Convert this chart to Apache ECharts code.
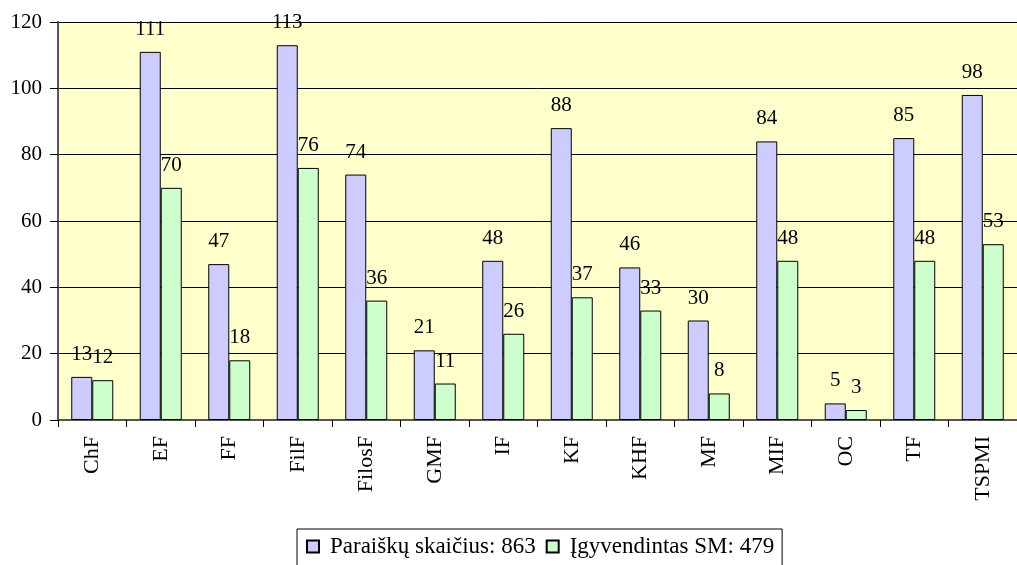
<!DOCTYPE html>
<html>
<head>
<meta charset="utf-8">
<script src="https://cdn.jsdelivr.net/npm/echarts@6/dist/echarts.min.js"></script>
<style>
html,body{margin:0;padding:0;background:#fff;}
#chart{width:1017px;height:565px;}
</style>
</head>
<body>
<div id="chart"></div>
<script>
var categories = ['ChF','EF','FF','FilF','FilosF','GMF','IF','KF','KHF','MF','MIF','OC','TF','TSPMI'];
var paraiskos = [13,111,47,113,74,21,48,88,46,30,84,5,85,98];
var igyvendinta = [12,70,18,76,36,11,26,37,33,8,48,3,48,53];
var seriesNames = ['Paraiškų skaičius: 863', 'Įgyvendintas SM: 479'];
var yTicks = {min: 0, max: 120, step: 20};

var font = '"Liberation Serif", serif';

function makeSeries(name, values, color){
	return {
		name: name,
		type: 'bar',
		data: values,
		barWidth: 21,
		barGap: '0%',
		itemStyle: { color: color, borderColor: '#000', borderWidth: 1 },
		label: {
			show: true,
			position: 'top',
			distance: 12,
			color: '#000',
			fontFamily: font,
			fontSize: 21
		}
	};
}

var myChart = echarts.init(document.getElementById('chart'));
var option = {
	backgroundColor: '#fff',
	animation: false,
	textStyle: { fontFamily: font },
	grid: {
		left: 58,
		top: 22,
		right: -10,
		bottom: 145,
		show: true,
		backgroundColor: '#FFFFCC',
		borderWidth: 0
	},
	legend: {
		left: 297,
		top: 529,
		padding: [6, 8, 10, 9],
		borderColor: '#000',
		borderWidth: 1,
		itemWidth: 12,
		itemHeight: 12,
		itemGap: 10,
		icon: 'rect',
		textStyle: { fontFamily: font, fontSize: 23, color: '#000', padding: [0, 0, 0, 6] },
		data: seriesNames
	},
	xAxis: {
		type: 'category',
		data: categories,
		axisLine: { lineStyle: { color: '#555', width: 2 } },
		axisTick: { show: true, length: 7, lineStyle: { color: '#000' } },
		axisLabel: { rotate: 90, margin: 16, color: '#000', fontFamily: font, fontSize: 22 }
	},
	yAxis: {
		type: 'value',
		min: yTicks.min,
		max: yTicks.max,
		interval: yTicks.step,
		axisLine: { show: true, lineStyle: { color: '#555', width: 2 } },
		axisTick: { show: true, length: 8, lineStyle: { color: '#000' } },
		axisLabel: { margin: 16, color: '#000', fontFamily: font, fontSize: 21 },
		splitLine: { show: true, lineStyle: { color: '#000', width: 1 } }
	},
	series: [
		makeSeries(seriesNames[0], paraiskos, '#CCCCFF'),
		makeSeries(seriesNames[1], igyvendinta, '#CCFFCC')
	]
};
myChart.setOption(option, true);
</script>
</body>
</html>
